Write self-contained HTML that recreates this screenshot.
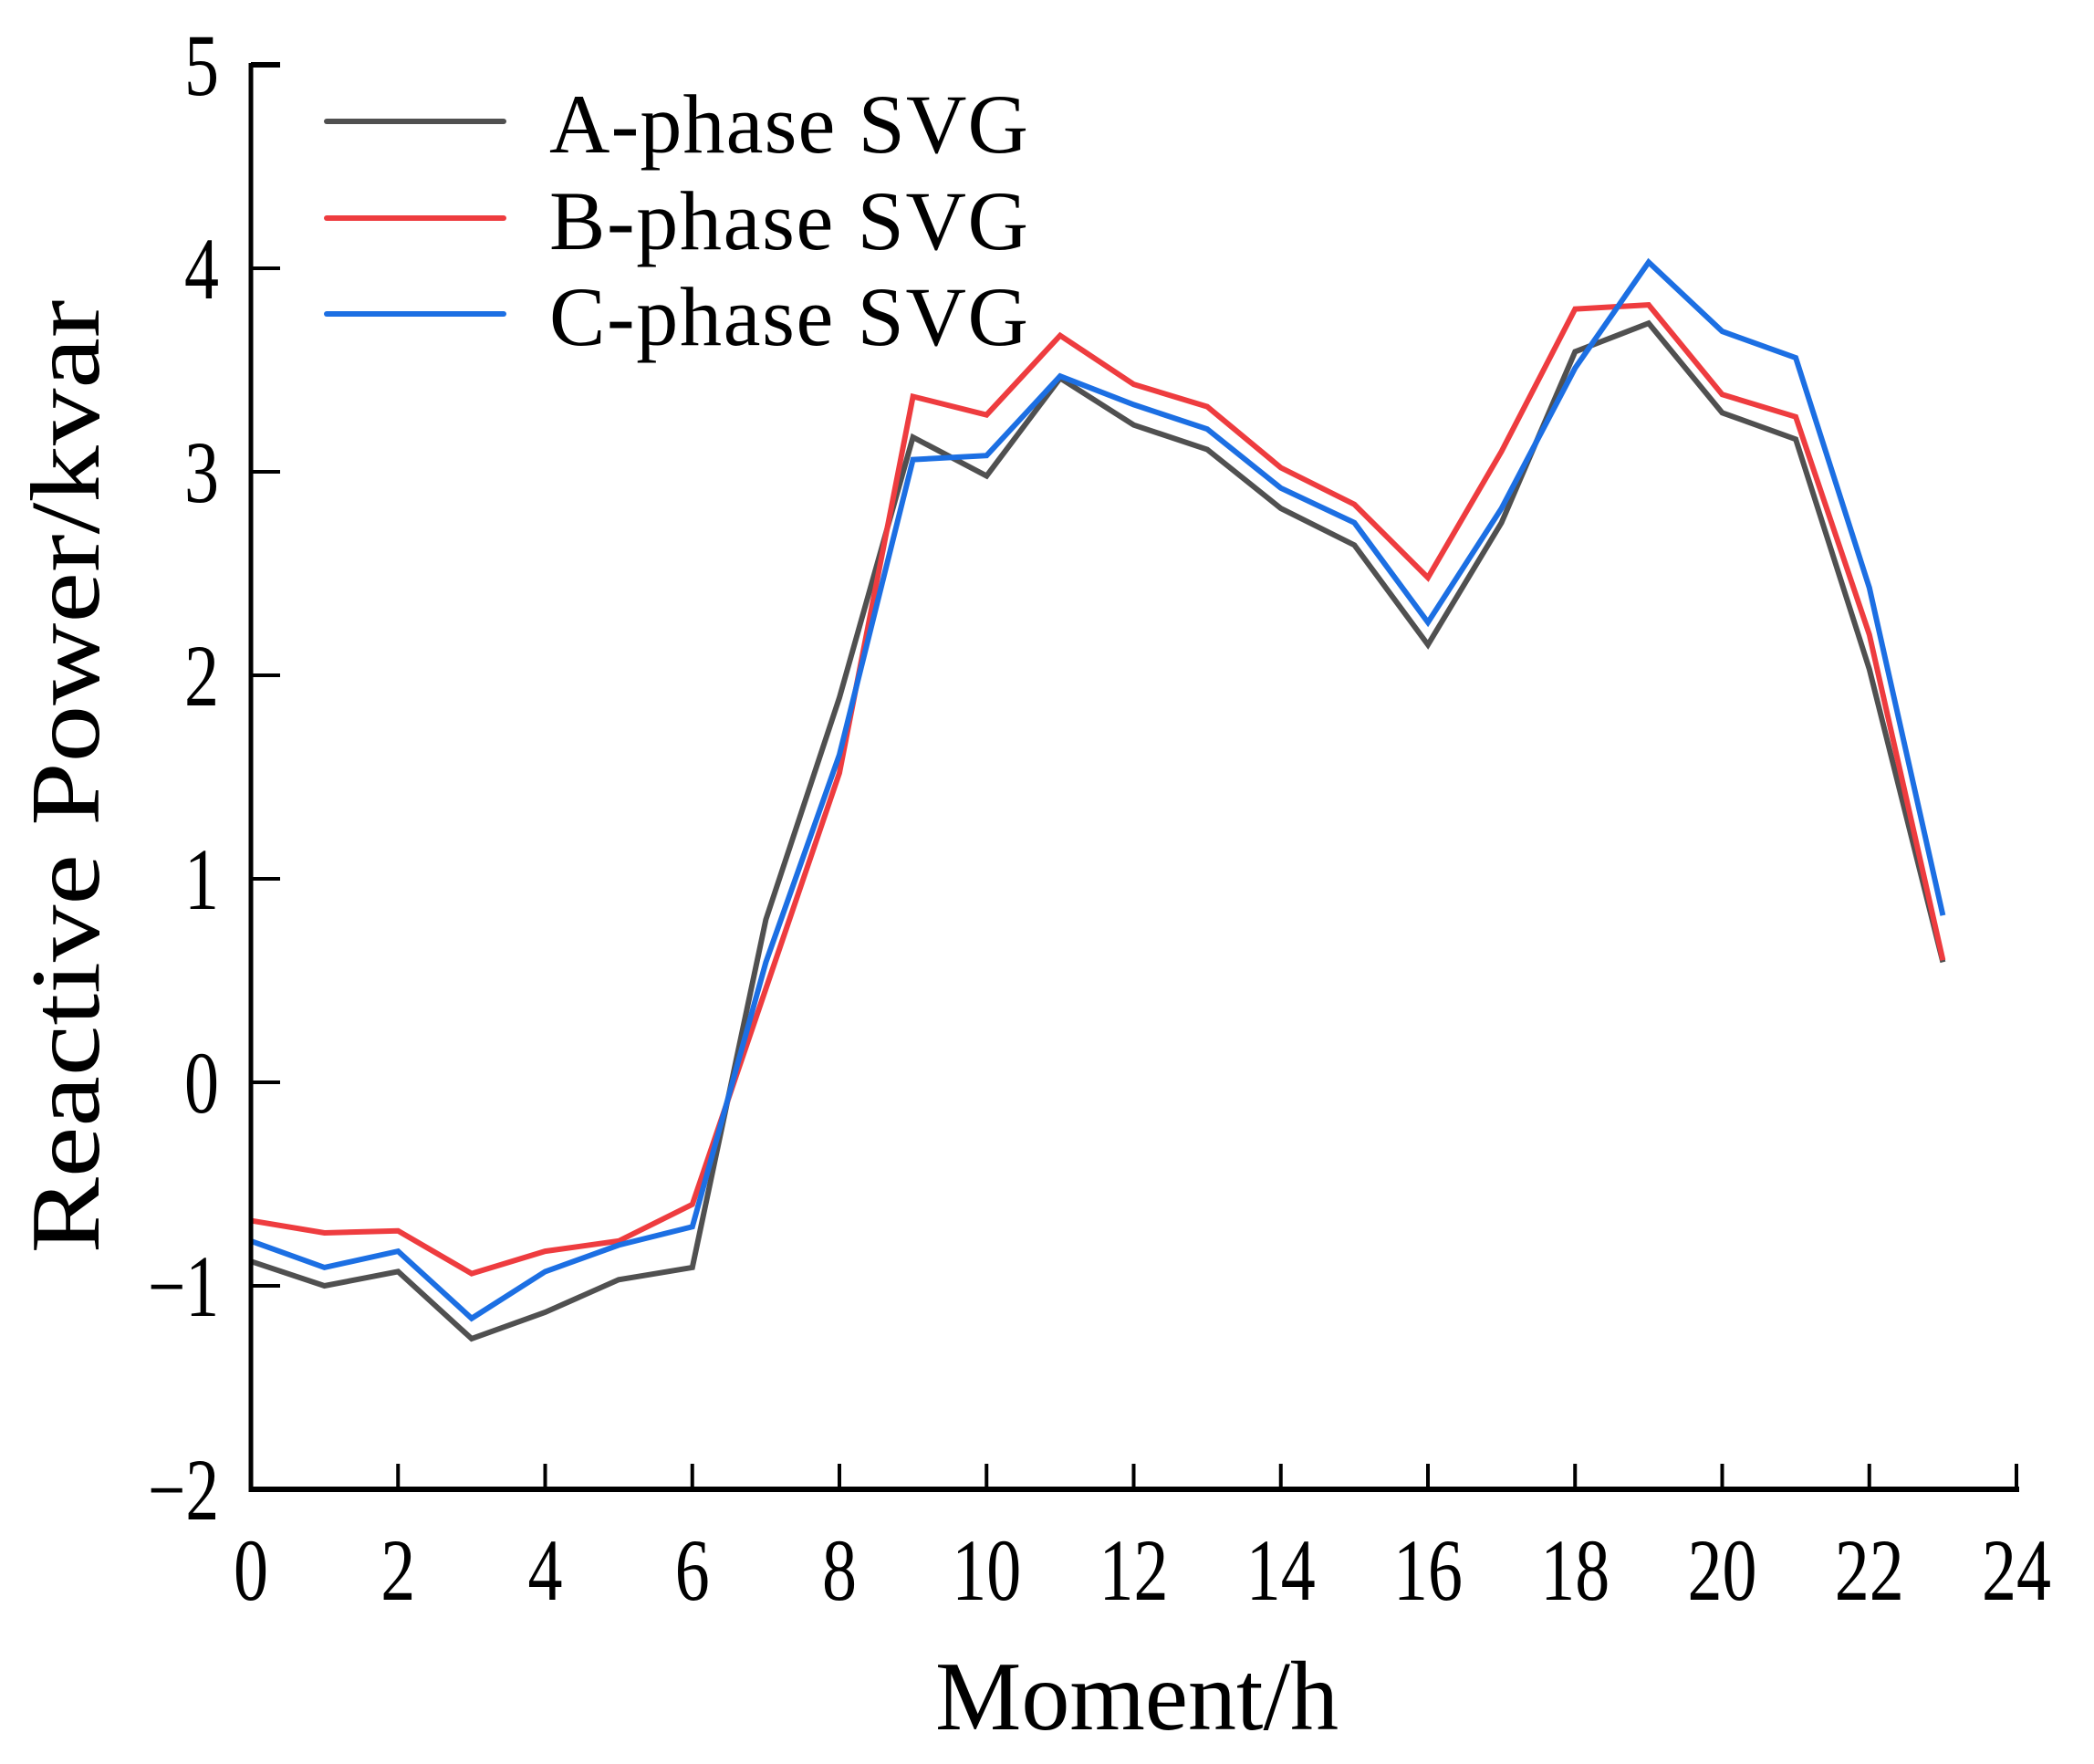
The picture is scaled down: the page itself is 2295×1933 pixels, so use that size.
<!DOCTYPE html>
<html><head><meta charset="utf-8"><style>
html,body{margin:0;padding:0;background:#fff;}
svg{display:block;}
text{font-family:"Liberation Serif",serif;fill:#000;}
</style></head><body>
<svg id="chart" width="2295" height="1933" viewBox="0 0 2295 1933" xmlns="http://www.w3.org/2000/svg">
<g id="plot"></g>
</svg>
<script>
const hours = [0,1,2,3,4,5,6,7,8,9,10,11,12,13,14,15,16,17,18,19,20,21,22,23];
const seriesA = [-0.88,-1.0,-0.93,-1.26,-1.13,-0.97,-0.91,0.80,1.89,3.17,2.98,3.46,3.23,3.11,2.82,2.64,2.15,2.75,3.59,3.73,3.29,3.16,2.03,0.59];
const seriesB = [-0.68,-0.74,-0.73,-0.94,-0.83,-0.78,-0.60,0.46,1.52,3.37,3.28,3.67,3.43,3.32,3.02,2.84,2.48,3.10,3.80,3.82,3.38,3.27,2.20,0.60];
const seriesC = [-0.78,-0.91,-0.83,-1.16,-0.93,-0.80,-0.71,0.59,1.61,3.06,3.08,3.47,3.33,3.21,2.92,2.75,2.26,2.82,3.51,4.03,3.69,3.56,2.43,0.82];
const xTicks = [0,2,4,6,8,10,12,14,16,18,20,22,24];
const yTicks = [-2,-1,0,1,2,3,4,5];
const seriesNames = ["A-phase SVG","B-phase SVG","C-phase SVG"];

const NS="http://www.w3.org/2000/svg";
const L=275,R=2210,T=71,B=1632;
const X0=0,X1=24,Y0=-2,Y1=5;
function sx(v){return L+(v-X0)/(X1-X0)*(R-L);}
function sy(v){return B-(v-Y0)/(Y1-Y0)*(B-T);}
const g=document.getElementById('plot');
function mk(tag,attrs,parent){const e=document.createElementNS(NS,tag);for(const k in attrs)e.setAttribute(k,attrs[k]);(parent||g).appendChild(e);return e;}

const colors=["#505050","#ee3c3f","#1c6fe3"];
const data=[seriesA,seriesB,seriesC];
data.forEach((s,i)=>{
  const pts=s.map((v,j)=>sx(hours[j]).toFixed(1)+","+sy(v).toFixed(1)).join(" ");
  const pl=mk('polyline',{points:pts,fill:"none",stroke:colors[i],"stroke-width":6,"stroke-linejoin":"miter"});
  
  
});

const ya=mk('line',{x1:L,y1:T-2,x2:L,y2:B+3,stroke:"#000","stroke-width":5});


const xa=mk('line',{x1:L-2,y1:B,x2:R+3,y2:B,stroke:"#000","stroke-width":6});



yTicks.forEach(v=>{
  const y=sy(v);
  const t=mk('line',{x1:L,y1:y,x2:L+32,y2:y,stroke:"#000","stroke-width":v===Y1?6:4});
  
  
  const txt=(v<0?"\u2212":"")+Math.abs(v);
  const lb=mk('text',{x:240,y:y+33,"text-anchor":"end","font-size":96,textLength:v<0?78:38,lengthAdjust:"spacingAndGlyphs"});
  lb.textContent=txt;
  
  
});
xTicks.forEach(v=>{
  const x=sx(v);
  if(v!==X0){
    const t=mk('line',{x1:x,y1:B,x2:x,y2:B-28,stroke:"#000","stroke-width":4});
    
    
  }
  const s=String(v);
  const lb=mk('text',{x:x,y:1753,"text-anchor":"middle","font-size":96,textLength:s.length*38,lengthAdjust:"spacingAndGlyphs"});
  lb.textContent=s;
  
  
});

const xt=mk('text',{x:1246,y:1895,"text-anchor":"middle","font-size":108,textLength:442,lengthAdjust:"spacingAndGlyphs"});
xt.textContent="Moment/h";


const yt=mk('text',{x:0,y:0,"text-anchor":"middle","font-size":108,textLength:1045,lengthAdjust:"spacingAndGlyphs",transform:"translate(108,851) rotate(-90)"});
yt.textContent="Reactive Power/kvar";



const lg=mk('g',{});


const ly=[133,239,344];
seriesNames.forEach((n,i)=>{
  const e=mk('g',{},lg);
  
  
  const ln=mk('line',{x1:358,y1:ly[i],x2:552,y2:ly[i],stroke:colors[i],"stroke-width":6,"stroke-linecap":"round"},e);
  
  
  const tx=mk('text',{x:602,y:ly[i]+34,"font-size":92,textLength:525,lengthAdjust:"spacing"},e);
  tx.textContent=n;
  
  
});
</script>
</body></html>
